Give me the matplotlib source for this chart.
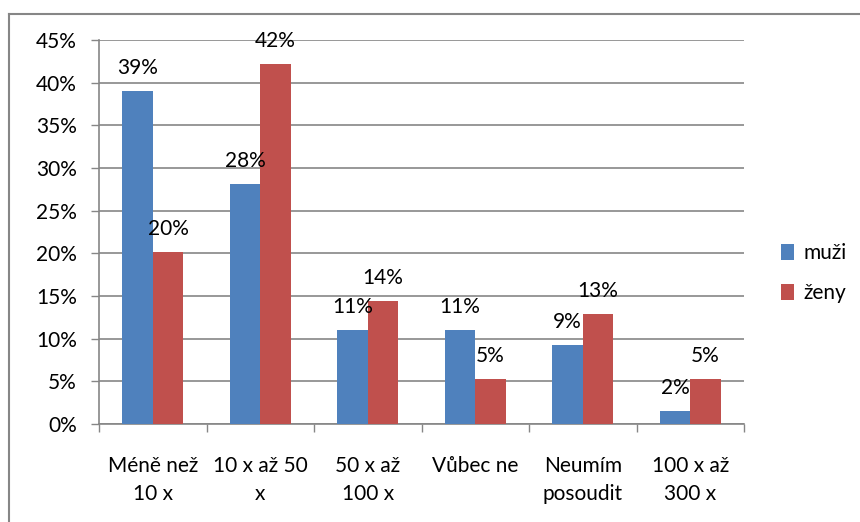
import matplotlib.pyplot as plt
import numpy as np
from matplotlib.lines import Line2D

categories = ['Méně než\n10 x', '10 x až 50\nx', '50 x až\n100 x', 'Vůbec ne', 'Neumím\nposoudit', '100 x až\n300 x']
muzi = [39.0, 28.1, 11.0, 11.0, 9.3, 1.5]
zeny = [20.1, 42.2, 14.4, 5.3, 12.9, 5.3]
series_names = ['muži', 'ženy']
yticks = [0, 5, 10, 15, 20, 25, 30, 35, 40, 45]

plt.rcParams['font.family'] = ['Lato', 'DejaVu Sans']
grid_color = '#868686'
blue = '#4F81BD'
red = '#C0504D'
fs = 15

fig = plt.figure(figsize=(8.6, 5.22), dpi=100)
ax = fig.add_axes([99 / 860, 1 - 424 / 522, (744 - 99) / 860, (424 - 40) / 522])

x = np.arange(len(categories))
w = 1 / 3.5
b1 = ax.bar(x - w / 2, muzi, w, color=blue, label=series_names[0], zorder=3)
b2 = ax.bar(x + w / 2, zeny, w, color=red, label=series_names[1], zorder=3)

# data labels above each bar
for bars, vals in ((b1, muzi), (b2, zeny)):
    for rect, v in zip(bars, vals):
        ax.annotate(f'{v:.0f}%', (rect.get_x() + rect.get_width() / 2, v),
                    xytext=(0, 23), textcoords='offset pixels',
                    ha='center', va='center', fontsize=fs, zorder=4)

ax.set_xlim(-0.5, len(categories) - 0.5)
ax.set_ylim(0, 45)
ax.set_yticks(yticks)
ax.set_yticklabels([f'{t}%' for t in yticks], fontsize=fs)
ax.yaxis.grid(True, color=grid_color, linewidth=1.2, zorder=0)
ax.tick_params(axis='y', length=6, width=1, color=grid_color, pad=10)

# boundaries as major ticks, category names as minor ticks
ax.set_xticks(np.arange(len(categories) + 1) - 0.5)
ax.set_xticklabels([])
ax.set_xticks(x, minor=True)
ax.set_xticklabels(categories, minor=True, fontsize=fs, linespacing=1.5)
ax.tick_params(axis='x', which='major', length=6, width=1, color=grid_color)
ax.tick_params(axis='x', which='minor', length=0, pad=23)

for s in ('top', 'right'):
    ax.spines[s].set_visible(False)
for s in ('left', 'bottom'):
    ax.spines[s].set_color(grid_color)
    ax.spines[s].set_linewidth(1.2)

leg = fig.legend(handles=[b1, b2], loc='center left', bbox_to_anchor=(781 / 860, 1 - 273 / 522),
                 frameon=False, fontsize=fs, handlelength=0.6, handleheight=0.8,
                 labelspacing=0.95, handletextpad=0.5, borderpad=0, borderaxespad=0)

# outer chart border (partially cut off in the original)
fig.add_artist(Line2D([9 / 860, 9 / 860], [0, 1 - 14 / 522], color=grid_color, lw=1.5))
fig.add_artist(Line2D([9 / 860, 1], [1 - 14 / 522, 1 - 14 / 522], color=grid_color, lw=1.5))

fig.savefig('out.png', dpi=100)
